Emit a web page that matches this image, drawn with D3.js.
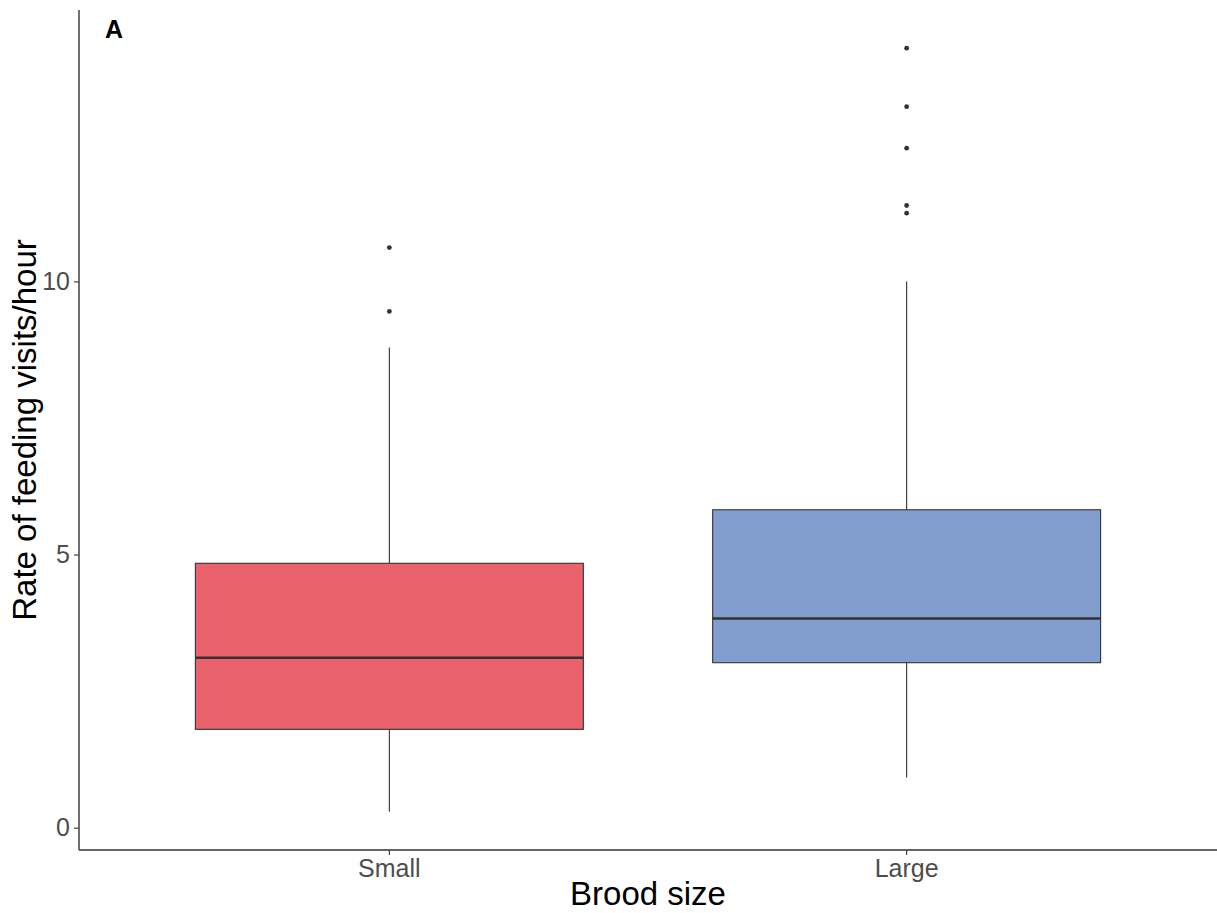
<!DOCTYPE html>
<html><head><meta charset="utf-8">
<script src="https://cdn.jsdelivr.net/npm/d3@7"></script>
<style>body{margin:0;background:#fff}svg{display:block}</style>
</head><body>
<svg id="c" width="1217" height="913"></svg>
<script>
const categories = ["Small", "Large"];
const lowerWhisker = [0.29, 0.92];
const q1 = [1.80, 3.02];
const median = [3.11, 3.83];
const q3 = [4.84, 5.82];
const upperWhisker = [8.79, 10.0];
const outliers = [[9.45, 10.62], [11.25, 11.39, 12.44, 13.2, 14.27]];
const fills = ["#EA636C", "#819ECE"];
const yTicks = [0, 5, 10];

(function () {
const svg = d3.select("#c");
const mLeft = 79, mRight = 1217, mTop = 10, mBottom = 850;

const yMin = d3.min(lowerWhisker), yMax = d3.max(outliers.flat());
const pad = (yMax - yMin) * 0.05;
const y = d3.scaleLinear().domain([yMin - pad, yMax + pad]).range([mBottom, mTop]);
const x = d3.scaleBand().domain(categories).range([mLeft, mRight]).paddingOuter(0.225).paddingInner(0.25);
const bw = x.bandwidth();
const cx = c => x(c) + bw / 2;

const g = svg.append("g");
categories.forEach((c, i) => {
  const xc = cx(c);
  g.append("line").attr("x1", xc).attr("x2", xc).attr("y1", y(q3[i])).attr("y2", y(upperWhisker[i]))
    .attr("stroke", "#333").attr("stroke-width", 1.1);
  g.append("line").attr("x1", xc).attr("x2", xc).attr("y1", y(q1[i])).attr("y2", y(lowerWhisker[i]))
    .attr("stroke", "#333").attr("stroke-width", 1.1);
  g.append("rect").attr("x", x(c)).attr("width", bw)
    .attr("y", y(q3[i])).attr("height", y(q1[i]) - y(q3[i]))
    .attr("fill", fills[i]).attr("stroke", "#333").attr("stroke-width", 1.1);
  g.append("line").attr("x1", x(c)).attr("x2", x(c) + bw).attr("y1", y(median[i])).attr("y2", y(median[i]))
    .attr("stroke", "#333").attr("stroke-width", 2.4);
  outliers[i].forEach(v => {
    g.append("circle").attr("cx", xc).attr("cy", y(v)).attr("r", 2.4).attr("fill", "#333");
  });
});

const font = "Liberation Sans, Arial, sans-serif";
const yAxis = svg.append("g").attr("transform", `translate(${mLeft},0)`)
  .call(d3.axisLeft(y).tickValues(yTicks).tickSize(5).tickPadding(4).tickFormat(d3.format("d")));
const xAxis = svg.append("g").attr("transform", `translate(0,${mBottom})`)
  .call(d3.axisBottom(x).tickSize(5).tickPadding(4));
[yAxis, xAxis].forEach(a => {
  a.select(".domain").attr("stroke", "#333").attr("stroke-width", 1.4);
  a.selectAll(".tick line").attr("stroke", "#333").attr("stroke-width", 1.1);
  a.selectAll(".tick text").attr("fill", "#4D4D4D").style("font-family", font).style("font-size", "25px");
});
yAxis.select(".domain").attr("d", `M0,${mTop}V${mBottom}`);
xAxis.select(".domain").attr("d", `M${mLeft},0H${mRight}`);

svg.append("text").attr("x", (mLeft + mRight) / 2).attr("y", 905).attr("text-anchor", "middle")
  .style("font-family", font).style("font-size", "33px").attr("fill", "#000").text("Brood size");
svg.append("text").attr("transform", `translate(36,${(mTop + mBottom) / 2}) rotate(-90)`).attr("text-anchor", "middle")
  .style("font-family", font).style("font-size", "33px").attr("fill", "#000").text("Rate of feeding visits/hour");
svg.append("text").attr("x", 105).attr("y", 38)
  .style("font-family", font).style("font-size", "25px").style("font-weight", "bold").attr("fill", "#000").text("A");
})();
</script>
</body></html>
